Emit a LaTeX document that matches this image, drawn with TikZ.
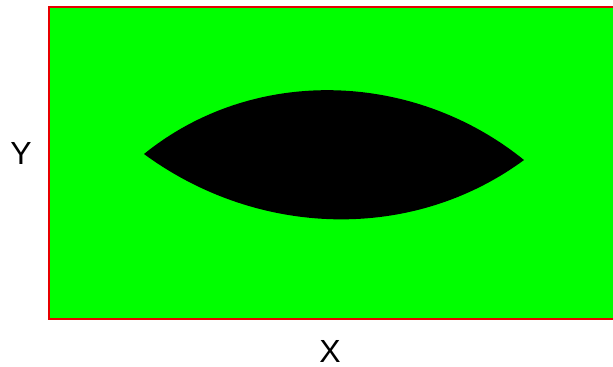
\documentclass[tikz,border=0pt]{standalone}
\usepackage{fontspec}
\setmainfont{Liberation Sans}
\definecolor{fieldgreen}{RGB}{0,255,0}
\definecolor{edgered}{RGB}{230,0,0}
\tikzset{
  axislabel/.style={font=\fontsize{16}{18}\selectfont, inner sep=0pt},
  field/.style={fill=fieldgreen},
  frame/.style={draw=edgered, line width=1pt},
  lens/.style={fill=black}
}
\begin{document}
\begin{tikzpicture}[x=0.5pt,y=-0.5pt]
\useasboundingbox (0,0) rectangle (613,366);
\fill[field] (49,7) rectangle (613,319);
\draw[frame] (614,7) -- (49,7) -- (49,319) -- (614,319);
\coordinate (L) at (144,154);
\coordinate (R) at (524,160);
\fill[lens] (L) .. controls (254,65) and (414,71) .. (R)
            .. controls (411,243) and (257,237) .. (L) -- cycle;
\node[axislabel] (ylab) at (21,153) {Y};
\node[axislabel] (xlab) at (330,351) {X};
\end{tikzpicture}
\end{document}
